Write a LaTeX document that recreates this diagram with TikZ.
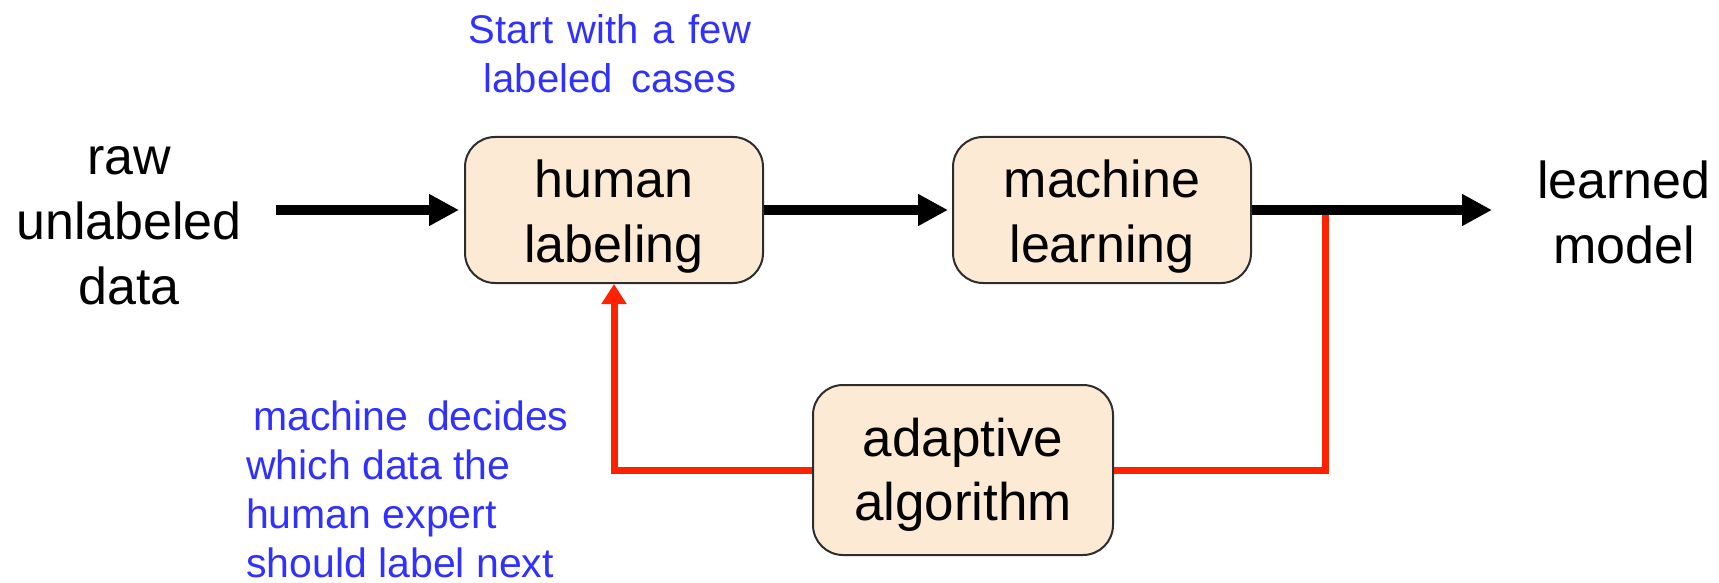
\documentclass[tikz,border=0pt]{standalone}
\usepackage{fontspec}
\setmainfont{Liberation Sans}
\usetikzlibrary{arrows.meta}
\definecolor{boxfill}{RGB}{253,234,212}
\definecolor{boxline}{RGB}{45,45,45}
\definecolor{notes}{RGB}{48,48,255}
\definecolor{loop}{RGB}{255,34,0}
% invisible strut that lowers a box's two text lines a little
\newcommand\boxtop[1]{\rule{0pt}{#1}}
\begin{document}
\begin{tikzpicture}[x=1pt,y=-1pt,
  stage/.style={draw=boxline, line width=2pt, fill=boxfill, rounded corners=30pt,
    minimum width=298pt, minimum height=146pt, align=center, inner sep=0pt,
    font=\fontsize{52}{65}\selectfont},
  endtext/.style={align=center, inner sep=0pt, font=\fontsize{52}{65}\selectfont},
  note/.style={text=notes, inner sep=0pt, font=\fontsize{40}{49}\selectfont},
  flow/.style={line width=10pt, -{Triangle[length=30pt,width=30pt]}},
  feedback/.style={draw=loop, line width=7pt}]
\useasboundingbox (0,0) rectangle (1719,583);

% process boxes
\node[stage] (human) at (614,210) {\boxtop{50pt}human\\labeling};
\node[stage] (ml) at (1102,210) {\boxtop{50pt}machine\\learning};
\node[stage, minimum width=300pt, minimum height=170pt,
      font=\fontsize{53}{64}\selectfont] (adapt) at (963,470) {\boxtop{48pt}adaptive\\algorithm};

% input and output texts
\node[endtext] (raw) at (129,226) {raw\\unlabeled\\data};
\node[endtext] (model) at (1624,212) {learned\\model};

% blue annotations
\node[note, align=center] (start) at (610,54)
  {Start\hspace{14pt}with\hspace{14pt}a\hspace{14pt}few\\labeled\hspace{19pt}cases};
\node[note, align=left, anchor=west, font=\fontsize{41}{49}\selectfont] (decide) at (246,489)
  {\hspace*{7pt}machine\hspace{19pt}decides\\which data the\\human expert\\should label next};

% free ends of the main flow
\coordinate (in) at (276,210);
\coordinate (out) at (1492,210);
\coordinate (tap) at (1325,210);

% feedback loop through the adaptive algorithm
\draw[feedback] (tap) |- (adapt.east);
\draw[feedback, -{Triangle[length=20pt,width=24pt]}] (adapt.west) -| (human.south);

% main flow
\draw[flow, shorten >=5pt] (in) -- (human.west);
\draw[flow, shorten >=4pt] (human.east) -- (ml.west);
\draw[flow] (ml.east) -- (out);
\end{tikzpicture}
\end{document}
